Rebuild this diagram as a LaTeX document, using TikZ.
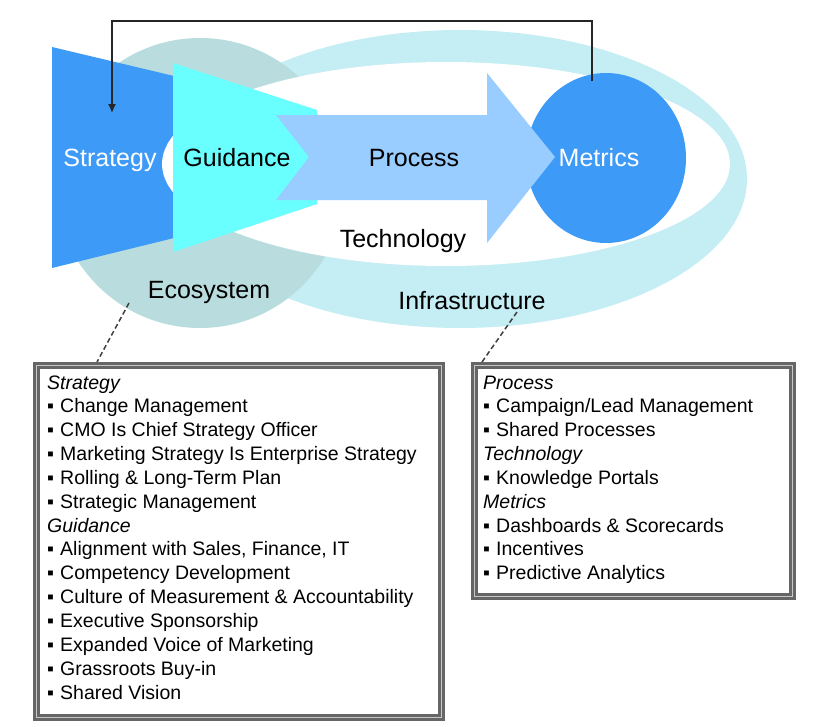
\documentclass[tikz,border=0pt]{standalone}
\usepackage{fontspec}
\setmainfont{Liberation Sans}
\usetikzlibrary{arrows.meta}

\definecolor{stratblue}{RGB}{61,154,247}
\definecolor{guidcyan}{RGB}{106,255,255}
\definecolor{procblue}{RGB}{153,204,255}
\definecolor{ecoteal}{RGB}{185,221,222}
\definecolor{ringcyan}{RGB}{196,237,244}

\def \ls {23.85}
\newcommand{\itm}{\makebox[13pt][l]{▪}}

\begin{document}
\begin{tikzpicture}[x=1pt,y=-1pt,
    big/.style={font=\fontsize{25}{30}\selectfont, inner sep=0pt, anchor=base},
    small/.style={font=\fontsize{19.5}{23.85}\selectfont, inner sep=0pt, anchor=base west},
    listbox/.style={draw=black!60, double=black!22, line width=3pt, double distance=1pt,
      inner sep=0pt, anchor=north west},
    leader/.style={draw=black!75, line width=1.5pt, dash pattern=on 5pt off 3pt},
    feedback/.style={draw=black!85, line width=1.3pt, -{Latex[length=9pt,width=8pt]}}]
      \useasboundingbox (0,0) rectangle (822,726);
      %ring, ecosystem
      \fill[ringcyan] (460,179) ellipse [x radius=287, y radius=149];
      \fill[ecoteal] (200,183) circle [radius=145];
      %strategy
      \fill[stratblue] (52,47)--(174,76)--(174,238)--(52,268)--cycle;
      \fill[white] (446,164) ellipse [x radius=284, y radius=102];
      %metrics, guidance, process
      \fill[stratblue] (606,158) ellipse [x radius=80, y radius=85];
      \fill[guidcyan] (173,63)--(317,110)--(317,204)--(173,252)--cycle;
      \fill[procblue] (276,115)--(487,115)--(487,73)--(555,157)--(487,243)--(487,200)--(276,200)--(309,157)--cycle;
      %labels
      \node[big, white] (strategy) at (110,166) {Strategy};
      \node[big] (guidance) at (237,166) {Guidance};
      \node[big] (process) at (414,166) {Process};
      \node[big, white] (metrics) at (599,166) {Metrics};
      \node[big] (technology) at (403,247) {Technology};
      \node[big] (ecosystem) at (209,298) {Ecosystem};
      \node[big] (infrastructure) at (472,309) {Infrastructure};
      %feedback
      \coordinate (fbtop) at (592,81);
      \coordinate (fbend) at (112,113);
      \draw[feedback] (fbtop) -- ++(0,-60) -| (fbend);
      %boxes
      \node[listbox, minimum width=405, minimum height=352] (stratbox) at (34.5,363.5) {};
      \node[listbox, minimum width=318, minimum height=231] (procbox) at (472.5,363.5) {};
      \coordinate (ecolink) at (129,303); \coordinate (stratlink) at (97,362);
      \coordinate (infralink) at (517,312); \coordinate (proclink) at (482,362);
      \draw[leader] (ecolink) -- (stratlink);
      \draw[leader] (infralink) -- (proclink);
      %lists
      \foreach \t [count=\i from 0] in {\textit{Strategy}, \itm Change Management,
          \itm CMO Is Chief Strategy Officer, \itm Marketing Strategy Is Enterprise Strategy,
          \itm Rolling \& Long-Term Plan, \itm Strategic Management, \textit{Guidance},
          {\itm Alignment with Sales, Finance, IT}, \itm Competency Development,
          \itm Culture of Measurement \& Accountability, \itm Executive Sponsorship,
          \itm Expanded Voice of Marketing, \itm Grassroots Buy-in, \itm Shared Vision}
        \node[small] (sl\i) at (47,389+\i*\ls) {\t};
      \foreach \t [count=\i from 0] in {\textit{Process}, \itm Campaign/Lead Management,
          \itm Shared Processes, \textit{Technology}, \itm Knowledge Portals, \textit{Metrics},
          \itm Dashboards \& Scorecards, \itm Incentives, \itm Predictive Analytics}
        \node[small] (pl\i) at (483,389+\i*\ls) {\t};
\end{tikzpicture}
\end{document}
